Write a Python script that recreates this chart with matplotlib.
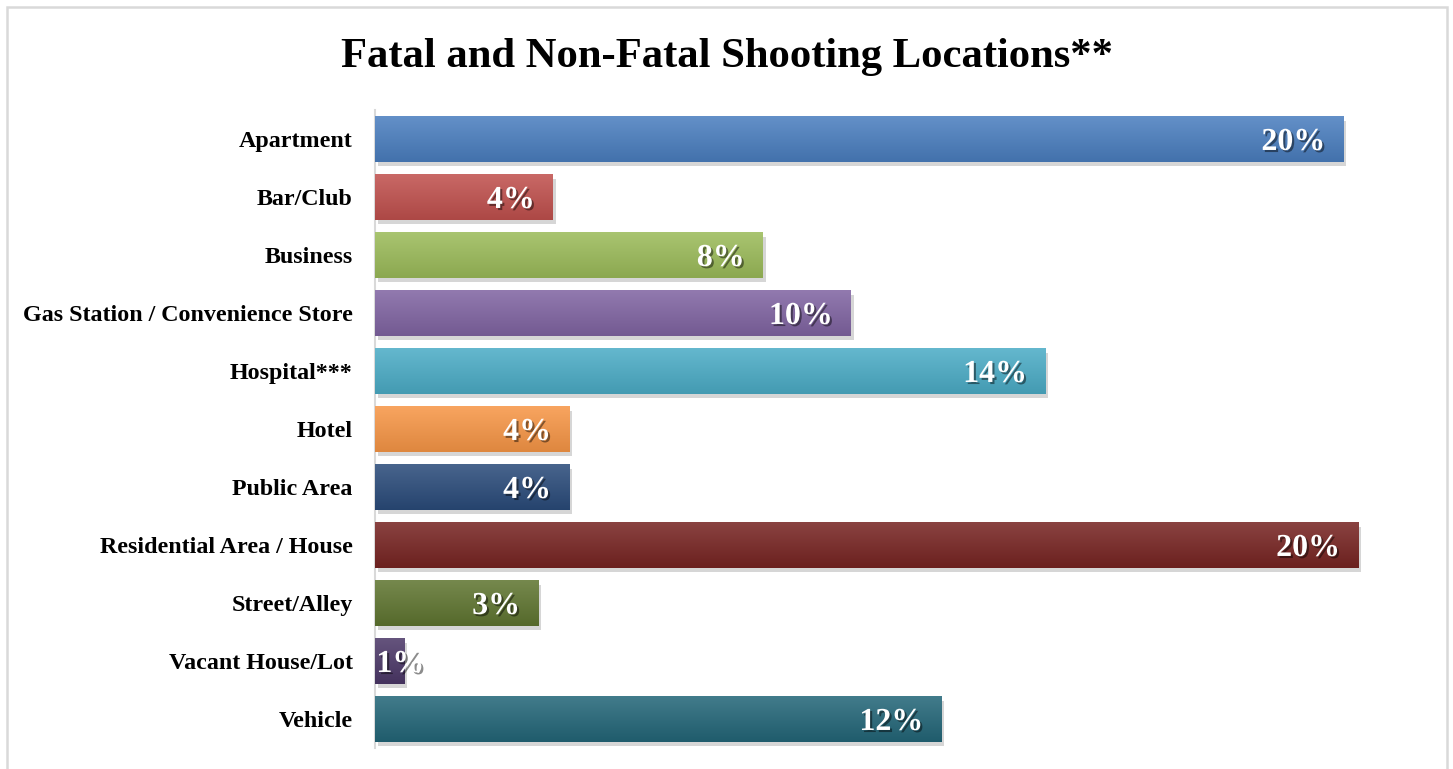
import numpy as np
import matplotlib
matplotlib.use("Agg")
import matplotlib.pyplot as plt
import matplotlib.patheffects as pe
from matplotlib.colors import to_rgb
from matplotlib.patches import Rectangle

categories = ["Apartment", "Bar/Club", "Business", "Gas Station / Convenience Store",
              "Hospital***", "Hotel", "Public Area", "Residential Area / House",
              "Street/Alley", "Vacant House/Lot", "Vehicle"]
values = [19.7, 3.62, 7.89, 9.68, 13.63, 3.95, 3.95, 20.0, 3.32, 0.59, 11.52]
colors = ["#4a7ebf", "#c0504d", "#9bbb59", "#8064a2", "#4bacc6", "#f79646",
          "#2a4b7a", "#772422", "#5f7530", "#4c3868", "#236678"]
title = "Fatal and Non-Fatal Shooting Locations**"

plt.rcParams['font.family'] = ['Liberation Serif', 'DejaVu Serif']

fig = plt.figure(figsize=(14.53, 7.69), dpi=100)
fig.patches.append(Rectangle((7/1453, -0.01), (1447-7)/1453, 1 - 7/769 + 0.01,
                             transform=fig.transFigure, fill=False,
                             edgecolor="#d9d9d9", linewidth=1.8))
ax = fig.add_axes([375/1453, 1 - 748/769, (1400-375)/1453, (748-110)/769])

y = np.arange(len(categories))
bars = ax.barh(y, values, height=0.78, color=colors, zorder=2,
               path_effects=[pe.SimplePatchShadow(offset=(2, -3), shadow_rgbFace="#999999", alpha=0.4),
                             pe.Normal()])

def mix(c, t, amt):
    c = np.array(to_rgb(c)); t = np.array(t)
    return c * (1 - amt) + t * amt

for bar, col in zip(bars, colors):
    x0, y0 = bar.get_x(), bar.get_y()
    w, h = bar.get_width(), bar.get_height()
    top = mix(col, (1, 1, 1), 0.14)
    bot = mix(col, (0, 0, 0), 0.10)
    n = 64
    t = np.linspace(0, 1, n)[:, None]
    grad = top[None, :] * (1 - t) + bot[None, :] * t
    img = ax.imshow(grad[:, None, :], extent=(x0, x0 + w, y0 + h, y0),
                    aspect='auto', zorder=3, interpolation='bilinear')
    img.set_clip_path(bar)

ax.set_ylim(len(categories) - 0.5, -0.5)
ax.set_xlim(0, 20.85)
ax.set_yticks(y)
ax.set_yticklabels(categories, fontsize=17.3, fontweight='bold')
ax.tick_params(axis='y', length=0, pad=16)
ax.set_xticks([])
for s in ["top", "right", "bottom"]:
    ax.spines[s].set_visible(False)
ax.spines["left"].set_color("#d9d9d9")
ax.spines["left"].set_linewidth(1.5)

shadow = [pe.withSimplePatchShadow(offset=(1.5, -1.5), shadow_rgbFace="black", alpha=0.45)]
for yi, v in zip(y, values):
    lab = f"{round(v):d}%"
    if v < 2:
        ax.annotate(lab, (0, yi), xytext=(1, -2.5), textcoords='offset points',
                    ha='left', va='center', color='white', fontsize=23,
                    fontweight='bold', zorder=5, path_effects=shadow)
    else:
        ax.annotate(lab, (v, yi), xytext=(-13, -2.5), textcoords='offset points',
                    ha='right', va='center', color='white', fontsize=23,
                    fontweight='bold', zorder=5, path_effects=shadow)

fig.text(727/1453, 1 - 57/769, title, ha='center', va='center',
         fontsize=30.7, fontweight='bold')

fig.savefig("out.png", dpi=100)
